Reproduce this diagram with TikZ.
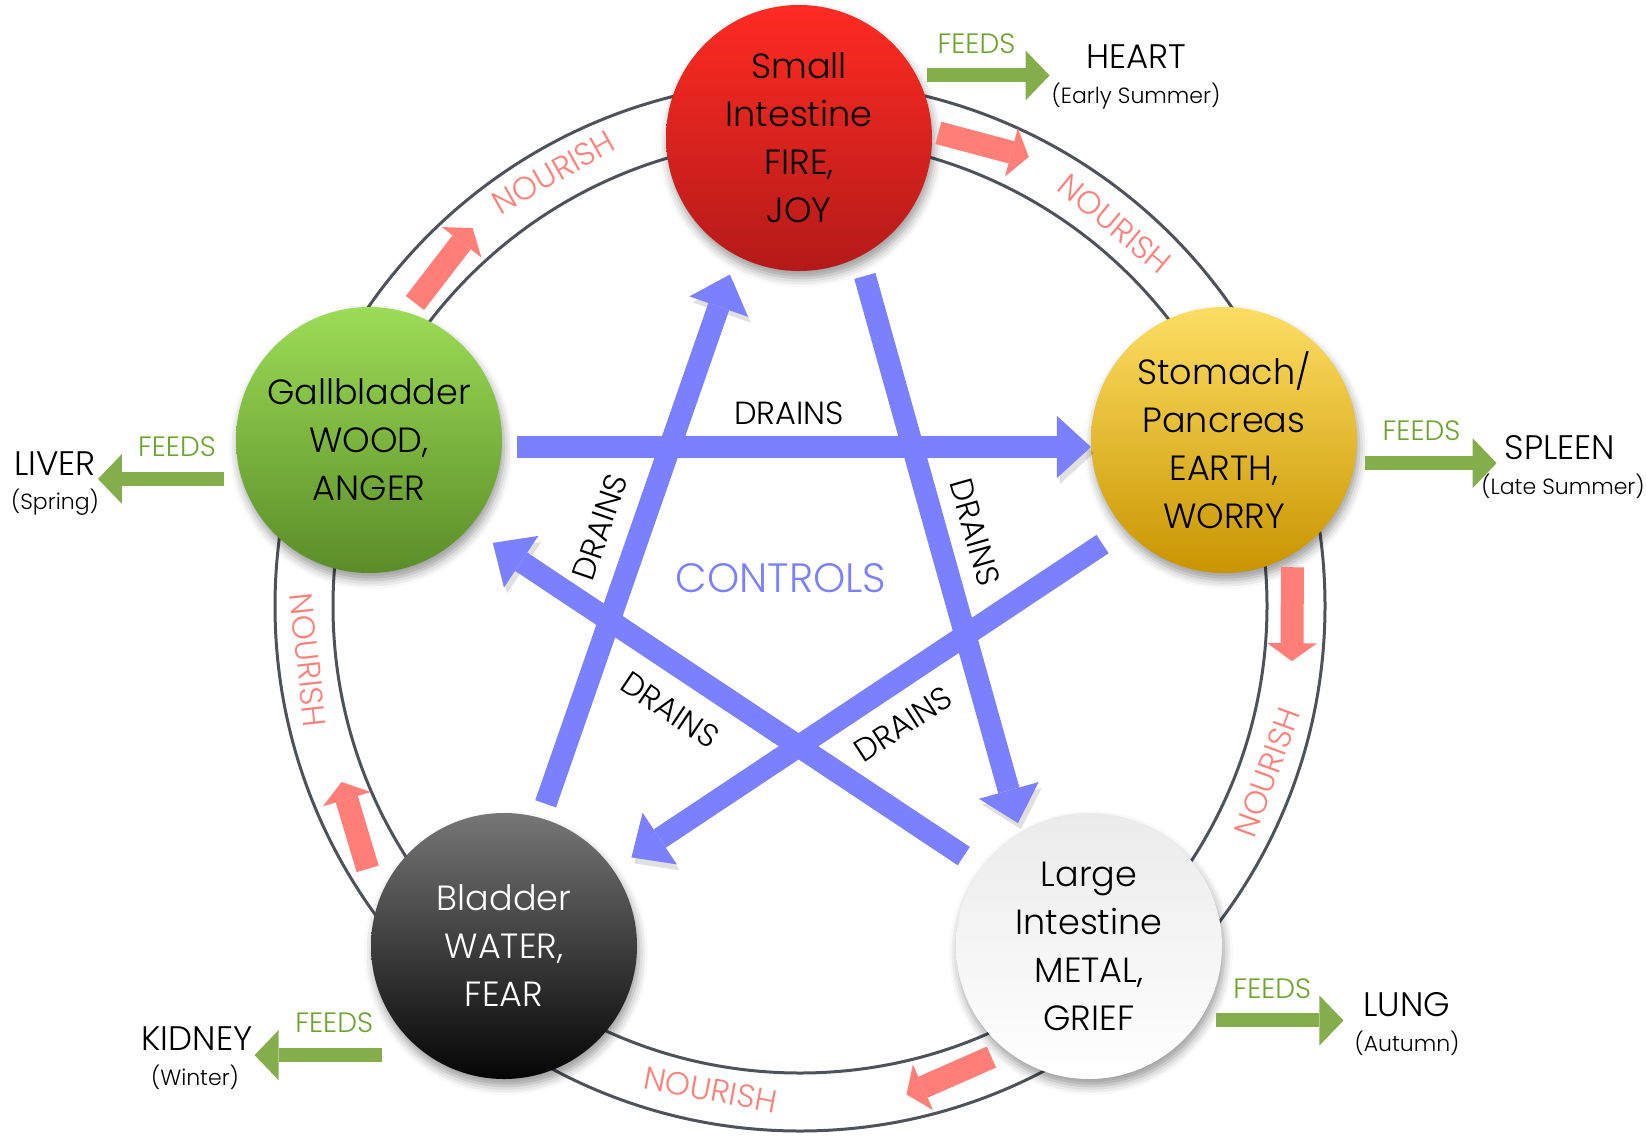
\documentclass[tikz,border=0pt]{standalone}
\usepackage{fontspec}
\setmainfont{Poppins Light}
\usetikzlibrary{arrows.meta, calc, shadows.blur, positioning}

\definecolor{drainblue}{HTML}{7B80FF}
\definecolor{nourishred}{HTML}{FF7F78}
\definecolor{feedgreen}{HTML}{84AE4C}
\definecolor{feedlabel}{HTML}{6AA52C}
\definecolor{ringgray}{HTML}{4D525B}
\definecolor{fireT}{HTML}{FF2B22}
\definecolor{fireB}{HTML}{B31A19}
\definecolor{woodT}{HTML}{9CDC56}
\definecolor{woodB}{HTML}{5A8D28}
\definecolor{earthT}{HTML}{FDDE63}
\definecolor{earthB}{HTML}{C99500}
\definecolor{waterT}{HTML}{767676}
\definecolor{waterB}{HTML}{050505}
\definecolor{metalT}{HTML}{EBEBEB}

\begin{document}
\begin{tikzpicture}[x=1pt, y=1pt,
    phase/.style={circle, minimum size=266pt, inner sep=0pt, align=center,
      font=\fontsize{35}{48}\selectfont,
      blur shadow={shadow xshift=2pt, shadow yshift=-7pt, shadow blur radius=9pt, shadow opacity=40}},
    drain/.style={drainblue, line width=22pt, -{Triangle[length=34pt, width=62pt, line width=0pt]},
      preaction={draw=black, opacity=.12, transform canvas={xshift=3pt, yshift=-6pt}}},
    nourish/.style={nourishred, line width=23pt, -{Triangle[length=18pt, width=50pt, line width=0pt]}},
    feed/.style={feedgreen, line width=14pt, -{Triangle[length=24pt, width=50pt, line width=0pt]}},
    organ/.style={font=\fontsize{34}{40}\selectfont, inner sep=2pt},
    season/.style={font=\fontsize{22}{28}\selectfont, inner sep=2pt},
    feedtext/.style={text=feedlabel, font=\fontsize{28}{34}\selectfont, inner sep=0pt, pos=0.45, above=15pt},
    draintext/.style={font=\fontsize{32}{38}\selectfont},
    nourishtext/.style={text=nourishred, font=\fontsize{32}{38}\selectfont}]

    \useasboundingbox (0,0) rectangle (1646,-1137);

    % Ring
    \coordinate (ring) at (800,-606);
    \draw[ringgray, line width=3pt] (ring) circle (525pt);
    \draw[ringgray, line width=3pt] (ring) circle (467pt);

    % Elements
    \node[phase, top color=fireT, bottom color=fireB] (fire) at (799,-138) {Small\\Intestine\\FIRE,\\JOY};
    \node[phase, top color=woodT, bottom color=woodB] (wood) at (369,-440) {Gallbladder\\WOOD,\\ANGER};
    \node[phase, top color=earthT, bottom color=earthB] (earth) at (1224,-440) {Stomach/\\Pancreas\\EARTH,\\WORRY};
    \node[phase, top color=waterT, bottom color=waterB, text=white] (water) at (504,-946) {Bladder\\WATER,\\FEAR};
    \node[phase, top color=metalT, bottom color=white] (metal) at (1089,-946) {Large\\Intestine\\METAL,\\GRIEF};

    % Organs
    \node[organ] (heart) at (1136,-57) {HEART};
    \node[season] (heartsn) at (1136,-96) {(Early Summer)};
    \node[organ] (spleen) at (1560,-448) {SPLEEN};
    \node[season] (spleensn) at (1563,-486) {(Late Summer)};
    \node[organ] (lung) at (1407,-1005) {LUNG};
    \node[season] (lungsn) at (1407,-1043) {(Autumn)};
    \node[organ] (kidney) at (197,-1039) {KIDNEY};
    \node[season] (kidneysn) at (195,-1077) {(Winter)};
    \node[organ] (liver) at (55,-464) {LIVER};
    \node[season] (liversn) at (55,-502) {(Spring)};

    % Feeds
    \draw[feed, shorten <=10pt] (fire.28.3) -- (fire.28.3 -| heartsn.west) node[feedtext] {FEEDS};
    \draw[feed, shorten <=10pt, shorten >=6pt] (earth.-10) -- (earth.-10 -| spleen.west) node[feedtext] {FEEDS};
    \draw[feed, shorten <=17pt, shorten >=18pt] (metal.-34.8) -- (metal.-34.8 -| lung.west) node[feedtext] {FEEDS};
    \draw[feed, shorten <=46pt] (water.235.8) -- (water.235.8 -| kidney.east) node[feedtext, pos=0.54] {FEEDS};
    \draw[feed, shorten <=18pt] (wood.197.5) -- (wood.197.5 -| liver.east) node[feedtext] {FEEDS};

    % Drains
    \draw[drain, shorten <=15pt] (wood.-3) -- (earth.183);
    \draw[drain, shorten <=27pt, shorten >=22pt] (earth.-138.5) -- (water.35.8);
    \draw[drain, shorten <=15pt, shorten >=20pt] (water.74.7) -- (fire.-118);
    \draw[drain, shorten <=20pt, shorten >=9pt] (fire.-63.6) -- (metal.121.4);
    \draw[drain, shorten <=21pt, shorten >=28pt] (metal.144.8) -- (wood.-41.5);

    \node[draintext] (d1) at (789,-413) {DRAINS};
    \node[draintext, rotate=71] (d2) at (600,-527) {DRAINS};
    \node[draintext, rotate=-74] (d3) at (975,-532) {DRAINS};
    \node[draintext, rotate=-34] (d4) at (670,-710) {DRAINS};
    \node[draintext, rotate=33] (d5) at (903,-724) {DRAINS};
    \node[text=drainblue, font=\fontsize{41}{48}\selectfont] (controls) at (781,-578) {CONTROLS};

    % Nourish
    \draw[nourish] ($(ring)+(141.8:490pt)$) -- ($(ring)+(130.9:500pt)$);
    \draw[nourish] ($(ring)+(73.7:493pt)$) -- ($(ring)+(63:504pt)$);
    \draw[nourish] ($(ring)+(4.5:494pt)$) -- ($(ring)+(-6.4:495pt)$);
    \draw[nourish] ($(ring)+(-67:490pt)$) -- ($(ring)+(-77.7:500pt)$);
    \draw[nourish] ($(ring)+(211.3:506pt)$) -- ($(ring)+(201:491pt)$);

    \node[nourishtext, rotate=29.6] (n1) at ($(ring)+(119.6:499pt)$) {NOURISH};
    \node[nourishtext, rotate=-39.5] (n2) at ($(ring)+(50.5:495pt)$) {NOURISH};
    \node[nourishtext, rotate=70] (n3) at ($(ring)+(-19.6:496pt)$) {NOURISH};
    \node[nourishtext, rotate=-10.5] (n4) at ($(ring)+(259.5:492pt)$) {NOURISH};
    \node[nourishtext, rotate=-83.7] (n5) at ($(ring)+(186.3:495pt)$) {NOURISH};
\end{tikzpicture}
\end{document}
